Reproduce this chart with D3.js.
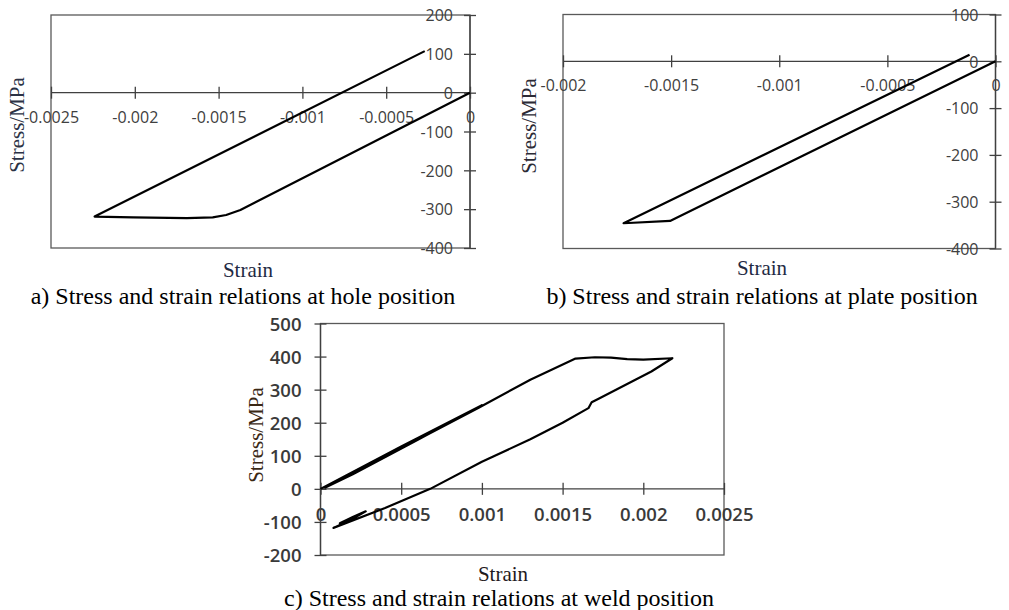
<!DOCTYPE html>
<html>
<head>
<meta charset="utf-8">
<script src="https://cdn.jsdelivr.net/npm/d3@7"></script>
<style>
  html, body { margin: 0; padding: 0; background: #fff; }
  svg { display: block; }
</style>
</head>
<body>
<div id="chart"></div>
<script>
// ---- data ----
// a) hole position
const holeStrain = [0, -0.00137, -0.001455, -0.001535, -0.00169, -0.00201, -0.00224, -0.00027];
const holeStress = [0, -302, -315, -321, -323, -321, -319, 107];
const holeXTicks = [-0.0025, -0.002, -0.0015, -0.001, -0.0005, 0];
const holeYTicks = [200, 100, 0, -100, -200, -300, -400];

// b) plate position
const plateStrain = [0, -0.001505, -0.00172, -0.00012];
const plateStress = [0, -341, -346, 14];
const plateXTicks = [-0.002, -0.0015, -0.001, -0.0005, 0];
const plateYTicks = [100, 0, -100, -200, -300, -400];

// c) weld position
const weldStrain = [0, 0.0005, 0.001, 0.0006, 0.0002, 0.00003, 0.0004, 0.00098, 0.0013, 0.00158,
  0.0017, 0.0018, 0.0019, 0.002, 0.00218, 0.00205, 0.0019, 0.00172, 0.00168, 0.00166,
  0.0015, 0.0013, 0.001, 0.00068, 0.0004, 0.00008, 0.00018, 0.00028, 0.0002, 0.00012, 0.00025];
const weldStress = [0, 128, 253, 148, 44, 4, 97, 245, 330, 394,
  398, 397, 392, 391, 395, 355, 317, 272, 262, 244,
  200, 150, 82, 0, -58, -118, -96, -68, -85, -104, -75];
const weldXTicks = [0, 0.0005, 0.001, 0.0015, 0.002, 0.0025];
const weldYTicks = [500, 400, 300, 200, 100, 0, -100, -200];

const W = 1009, H = 610;
const svg = d3.select('#chart').append('svg').attr('width', W).attr('height', H);

// 차트 하나 그리기
function drawPanel(cfg) {
  const x = d3.scaleLinear().domain(cfg.xDomain).range([cfg.left, cfg.right]);
  const y = d3.scaleLinear().domain(cfg.yDomain).range([cfg.bottom, cfg.top]);
  const g = svg.append('g');

  // plot area frame
  g.append('rect')
    .attr('x', cfg.left).attr('y', cfg.top)
    .attr('width', cfg.right - cfg.left).attr('height', cfg.bottom - cfg.top)
    .attr('fill', 'none').attr('stroke', '#595959').attr('stroke-width', 1.3);

  // x axis on the y=0 line
  const xAxis = g.append('g')
    .attr('transform', `translate(0,${y(0)})`)
    .call(d3.axisBottom(x).tickValues(cfg.xTicks).tickFormat(d => String(d)).tickSizeOuter(0));
  xAxis.select('.domain').attr('stroke', '#404040').attr('stroke-width', 1.3)
    .attr('d', `M${cfg.left},0H${cfg.right}`);
  xAxis.selectAll('.tick line').attr('y1', -6).attr('y2', 6).attr('stroke', '#404040').attr('stroke-width', 1.3);
  xAxis.selectAll('.tick text')
    .attr('y', cfg.xLabelDy).attr('dy', 0)
    .attr('fill', cfg.tickColor).attr('font-family', 'Open Sans')
    .attr('font-size', cfg.tickSize).attr('font-weight', cfg.tickWeight);

  // y axis at x=0
  const yAxis = g.append('g')
    .attr('transform', `translate(${x(0)},0)`)
    .call(d3.axisLeft(y).tickValues(cfg.yTicks).tickFormat(d => String(d)).tickSizeOuter(0));
  yAxis.select('.domain').attr('stroke', '#404040').attr('stroke-width', 1.3)
    .attr('d', `M0,${cfg.top}V${cfg.bottom}`);
  yAxis.selectAll('.tick line').attr('x1', -6).attr('x2', 6).attr('stroke', '#404040').attr('stroke-width', 1.3);
  yAxis.selectAll('.tick text')
    .attr('x', cfg.yLabelDx).attr('dy', '0.36em')
    .attr('fill', cfg.tickColor).attr('font-family', 'Open Sans')
    .attr('font-size', cfg.tickSize).attr('font-weight', cfg.tickWeight);

  // data curve
  const pts = cfg.xs.map((v, i) => [v, cfg.ys[i]]);
  g.append('path')
    .datum(pts)
    .attr('d', d3.line().x(d => x(d[0])).y(d => y(d[1])))
    .attr('fill', 'none').attr('stroke', '#000').attr('stroke-width', 2.2)
    .attr('stroke-linejoin', 'round');

  // axis titles
  g.append('text')
    .attr('transform', `translate(${cfg.yTitle[0]},${cfg.yTitle[1]}) rotate(-90)`)
    .attr('text-anchor', 'middle')
    .attr('font-family', 'Liberation Serif').attr('font-size', 21)
    .attr('fill', cfg.yTitleColor)
    .text('Stress/MPa');
  g.append('text')
    .attr('x', cfg.xTitle[0]).attr('y', cfg.xTitle[1])
    .attr('text-anchor', 'middle')
    .attr('font-family', 'Liberation Serif').attr('font-size', 21)
    .attr('fill', cfg.xTitleColor)
    .text('Strain');
  g.append('text')
    .attr('x', cfg.caption[0]).attr('y', cfg.caption[1])
    .attr('text-anchor', 'middle')
    .attr('font-family', 'Liberation Serif').attr('font-size', 24)
    .attr('fill', '#000')
    .text(cfg.captionText);
}

drawPanel({
  xs: holeStrain, ys: holeStress, xTicks: holeXTicks, yTicks: holeYTicks,
  xDomain: [-0.0025, 0], yDomain: [-400, 200],
  left: 51, right: 470, top: 15, bottom: 248,
  xLabelDy: 30, yLabelDx: -17, tickSize: 16, tickWeight: 400, tickColor: '#404040',
  yTitle: [24, 125], yTitleColor: '#2b3245',
  xTitle: [248, 277], xTitleColor: '#1f2a44',
  caption: [243, 304], captionText: 'a) Stress and strain relations at hole position'
});

drawPanel({
  xs: plateStrain, ys: plateStress, xTicks: plateXTicks, yTicks: plateYTicks,
  xDomain: [-0.002, 0], yDomain: [-400, 100],
  left: 563, right: 995.5, top: 14.5, bottom: 248.5,
  xLabelDy: 30, yLabelDx: -17, tickSize: 16, tickWeight: 400, tickColor: '#404040',
  yTitle: [536, 126], yTitleColor: '#2b2a35',
  xTitle: [762, 275], xTitleColor: '#1f2a44',
  caption: [762, 304], captionText: 'b) Stress and strain relations at plate position'
});

drawPanel({
  xs: weldStrain, ys: weldStress, xTicks: weldXTicks, yTicks: weldYTicks,
  xDomain: [0, 0.0025], yDomain: [-200, 500],
  left: 320.5, right: 724, top: 323.5, bottom: 555,
  xLabelDy: 32, yLabelDx: -19, tickSize: 18.5, tickWeight: 600, tickColor: '#3a3a3a',
  yTitle: [263, 435], yTitleColor: '#3a2815',
  xTitle: [503, 581], xTitleColor: '#1f1a20',
  caption: [499, 606], captionText: 'c) Stress and strain relations at weld position'
});
</script>
</body>
</html>
